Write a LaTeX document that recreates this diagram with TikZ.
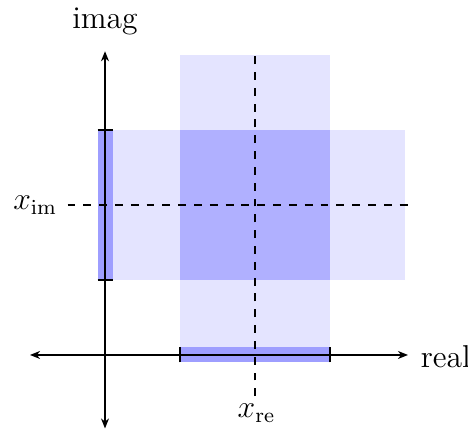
\documentclass[tikz,border=0pt]{standalone}
\usetikzlibrary{arrows.meta}
\definecolor{lightfill}{RGB}{228,228,255}
\definecolor{darkfill}{RGB}{176,176,255}
\definecolor{barfill}{RGB}{158,158,255}
\tikzset{
  axis/.style={line width=0.7pt,{Stealth[length=3.8pt,width=3pt,inset=1.2pt]}-{Stealth[length=3.8pt,width=3pt,inset=1.2pt]}},
  guide/.style={dashed,line width=0.7pt},
  barbox/.style={fill=barfill,draw=none},
  tickline/.style={line width=0.8pt},
  lbl/.style={font=\large,inner sep=1pt}
}
\begin{document}
\begin{tikzpicture}[x=1cm,y=1cm]
\useasboundingbox (-1.4,-1.0) rectangle (4.84,4.733);
% light strips
\fill[lightfill] (1,-0.0) rectangle (3,4);
\fill[lightfill] (0,1) rectangle (4,3);
\fill[darkfill] (1,1) rectangle (3,3);
% bars
\fill[barfill] (-0.1,1) rectangle (0.1,3);
\fill[barfill] (1,-0.1) rectangle (3,0.1);
% coordinates
\coordinate (xl) at (-1,0);
\coordinate (xr) at (4.04,0);
\coordinate (yb) at (0,-0.98);
\coordinate (yt) at (0,4.05);
\coordinate (hl) at (-0.5,2);
\coordinate (hr) at (4.04,2);
\coordinate (vb) at (2,-0.55);
\coordinate (vt) at (2,4.05);
% dashed guides
\draw[guide] (hl) -- (hr);
\draw[guide] (vb) -- (vt);
% axes
\draw[axis] (xl) -- (xr);
\draw[axis] (yb) -- (yt);
% ticks
\coordinate (ta1) at (-0.1,1); \coordinate (ta2) at (0.1,1);
\coordinate (tb1) at (-0.1,3); \coordinate (tb2) at (0.1,3);
\coordinate (tc1) at (1,-0.1); \coordinate (tc2) at (1,0.1);
\coordinate (td1) at (3,-0.1); \coordinate (td2) at (3,0.1);
\draw[tickline] (ta1) -- (ta2);
\draw[tickline] (tb1) -- (tb2);
\draw[tickline] (tc1) -- (tc2);
\draw[tickline] (td1) -- (td2);
% labels
\node[lbl] (imag) at (0,4.45) {imag};
\node[lbl,anchor=west] (real) at (4.17,-0.02) {real};
\node[lbl] (xim) at (-0.93,2) {$x_{\mathrm{im}}$};
\node[lbl] (xre) at (2.02,-0.78) {$x_{\mathrm{re}}$};
\end{tikzpicture}
\end{document}
